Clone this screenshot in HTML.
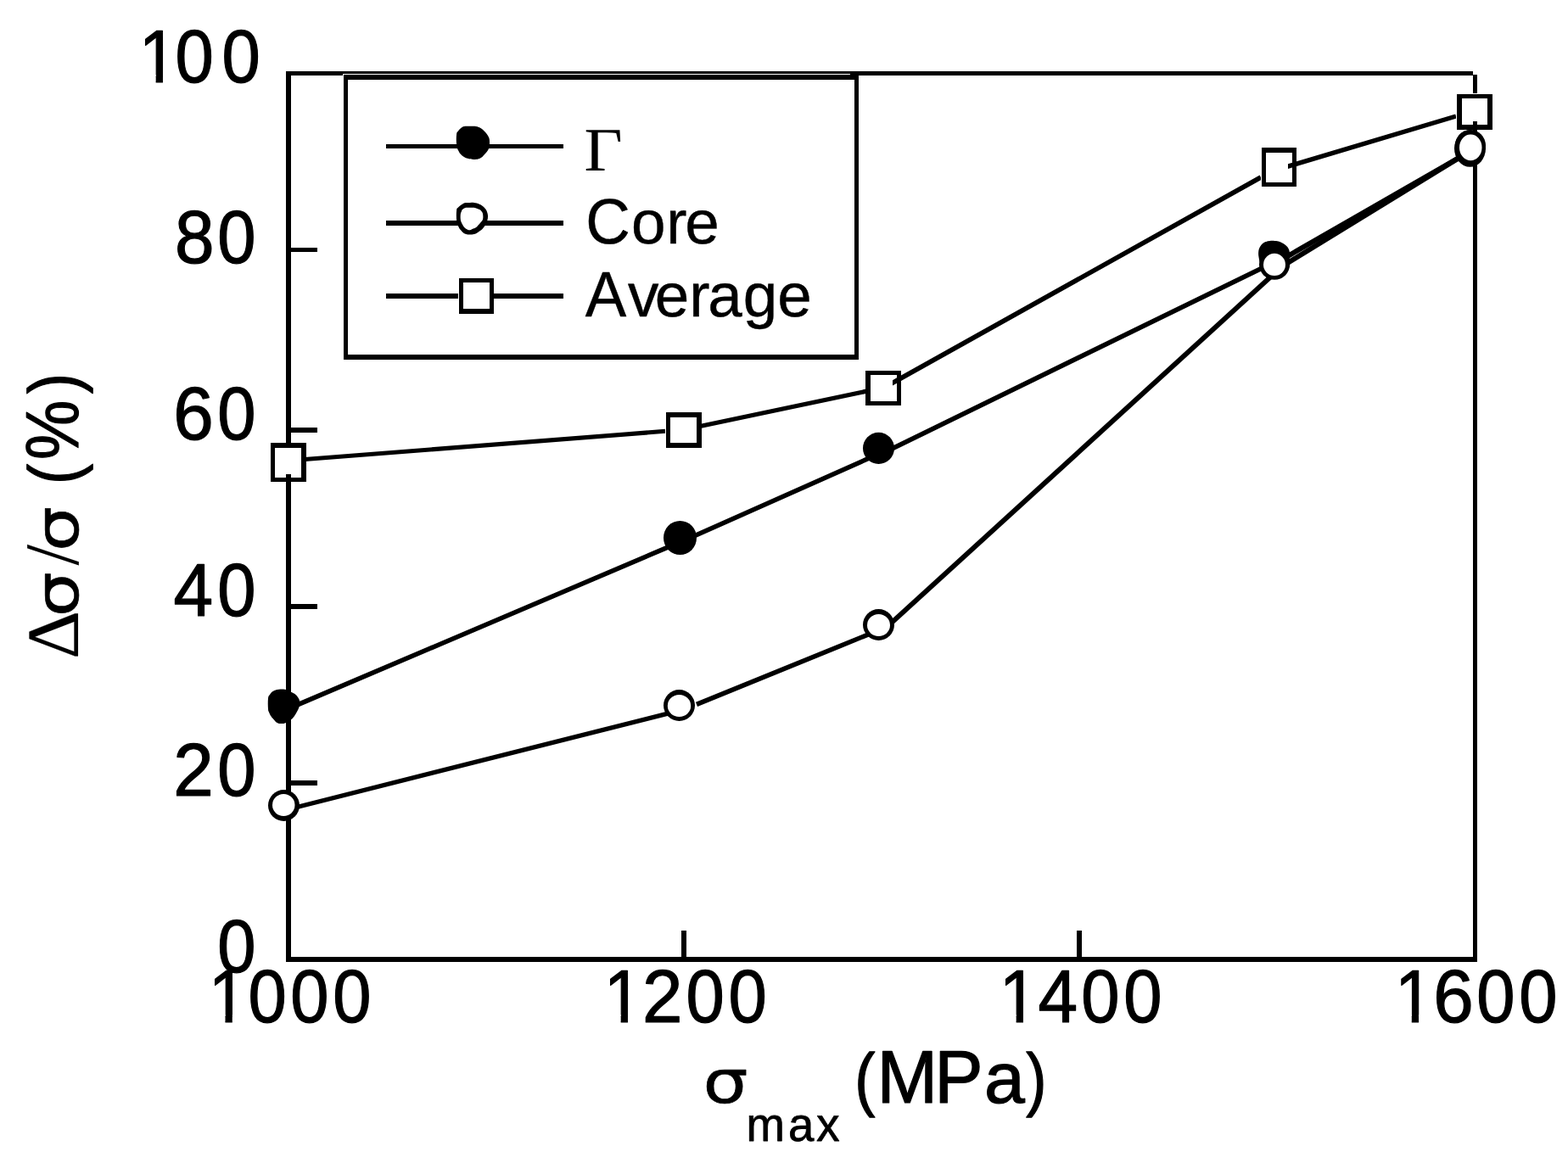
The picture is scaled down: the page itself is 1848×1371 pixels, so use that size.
<!DOCTYPE html>
<html lang="en"><head><meta charset="utf-8"><title>Δσ/σ (%) vs σmax (MPa)</title>
<style>html,body{margin:0;padding:0;background:#fff;overflow:hidden}svg{display:block}text{fill:#000;white-space:pre;font-kerning:none;text-rendering:geometricPrecision}</style>
</head><body>
<svg width="1848" height="1371" viewBox="0 0 1848 1371">
<rect width="1848" height="1371" fill="#fff"/>
<g id="frame">
<rect x="337" y="84" width="6" height="1050" fill="#000"/>
<rect x="337" y="84" width="1399" height="5" fill="#000"/>
<rect x="1736" y="88" width="5" height="1046" fill="#000"/>
<rect x="337" y="1128" width="1404" height="6" fill="#000"/>
<rect x="343" y="292" width="31" height="5" fill="#000"/>
<rect x="343" y="504" width="31" height="6" fill="#000"/>
<rect x="343" y="712" width="31" height="6" fill="#000"/>
<rect x="343" y="920" width="31" height="6" fill="#000"/>
<rect x="803" y="1097" width="6" height="31" fill="#000"/>
<rect x="1269" y="1097" width="6" height="31" fill="#000"/>
</g>
<g id="series-gamma">
<line x1="340" y1="835.4" x2="806" y2="637.1" stroke="#000" stroke-width="5.51"/>
<line x1="806" y1="637.3" x2="1041" y2="532.7" stroke="#000" stroke-width="5.53"/>
<line x1="1041" y1="534" x2="1507.5" y2="306.2" stroke="#000" stroke-width="5.57"/>
<line x1="1507.5" y1="307.8" x2="1725" y2="182.96" stroke="#000" stroke-width="6.1"/>
<path d="M328.3,812.8C331.06,812.4 332.86,812.2 335.8,812.8C338.74,813.4 340.5,814.62 343,815.8C345.5,816.98 346.58,817.32 348.3,818.7C350.02,820.08 350.66,821.24 351.6,822.7C352.54,824.16 352.72,824.54 353,826C353.28,827.46 353.16,828.3 353,830C352.84,831.7 352.88,832.56 352.2,834.5C351.52,836.44 350.78,837.6 349.6,839.7C348.42,841.8 347.62,843.28 346.3,845C344.98,846.72 344.84,846.92 343,848.3C341.16,849.68 339.34,850.96 337.1,851.9C334.86,852.84 333.96,853 331.8,853C329.64,853 328.12,852.84 326.3,851.9C324.48,850.96 324.08,849.82 322.7,848.3C321.32,846.78 320.52,846.02 319.4,844.3C318.28,842.58 317.78,841.4 317.1,839.7C316.42,838 316.22,839.08 316,835.8C315.78,832.52 315.58,826.72 316,823.3C316.42,819.88 316.9,820.4 318.1,818.7C319.3,817 319.96,815.98 322,814.8C324.04,813.62 325.54,813.2 328.3,812.8Z" fill="#000"/>
<ellipse cx="801.5" cy="634" rx="19.5" ry="20" fill="#000"/>
<ellipse cx="1035.5" cy="528.4" rx="18.5" ry="18.6" fill="#000"/>
<path d="M1483.5,303C1482.96,299.8 1483.1,298.2 1483.3,296C1483.5,293.8 1483.96,293.3 1484.5,292C1485.04,290.7 1485.2,290.56 1486,289.5C1486.8,288.44 1487.3,287.6 1488.5,286.7C1489.7,285.8 1490.4,285.54 1492,285C1493.6,284.46 1494.42,284.2 1496.5,284C1498.58,283.8 1500.04,283.82 1502.4,284C1504.76,284.18 1505.94,284.06 1508.3,284.9C1510.66,285.74 1512.24,286.74 1514.2,288.2C1516.16,289.66 1516.98,290.48 1518.1,292.2C1519.22,293.92 1519.42,294.64 1519.8,296.8C1520.18,298.96 1520.36,299.96 1520,303C1519.64,306.04 1519.6,308.8 1518,312C1516.4,315.2 1515.2,317 1512,319C1508.8,321 1506,322 1502,322C1498,322 1495.2,321 1492,319C1488.8,317 1487.7,315.2 1486,312C1484.3,308.8 1484.04,306.2 1483.5,303Z" fill="#000"/>
<ellipse cx="1733" cy="171.5" rx="18" ry="18.5" fill="#000"/>
</g>
<g id="series-core">
<line x1="340" y1="954" x2="800" y2="837.82" stroke="#000" stroke-width="5.32"/>
<line x1="821" y1="830.39" x2="1036" y2="742.83" stroke="#000" stroke-width="5.49"/>
<line x1="1040" y1="743.93" x2="1500" y2="324.05" stroke="#000" stroke-width="5.88"/>
<line x1="1507.5" y1="316.1" x2="1725" y2="182.58" stroke="#000" stroke-width="6.1"/>
<ellipse cx="334.5" cy="949.5" rx="18.5" ry="18.5" fill="#000"/>
<ellipse cx="334.25" cy="949" rx="13.25" ry="13" fill="#fff"/>
<ellipse cx="800.5" cy="831.5" rx="18.5" ry="18.5" fill="#000"/>
<ellipse cx="800.5" cy="832" rx="13.7" ry="13" fill="#fff"/>
<ellipse cx="1035.5" cy="736.5" rx="18.5" ry="18.5" fill="#000"/>
<ellipse cx="1035.5" cy="737" rx="13.5" ry="13" fill="#fff"/>
<ellipse cx="1502.1" cy="311.65" rx="18.1" ry="18.15" fill="#000"/>
<ellipse cx="1502" cy="311.9" rx="13" ry="13.1" fill="#fff"/>
<ellipse cx="1732.5" cy="175" rx="18.5" ry="21.8" fill="#000"/>
<ellipse cx="1733.25" cy="173.95" rx="13.25" ry="15.35" fill="#fff"/>
</g>
<g id="series-average">
<line x1="340" y1="543" x2="784" y2="508.32" stroke="#000" stroke-width="5.1"/>
<line x1="806" y1="506.5" x2="1041" y2="457" stroke="#000" stroke-width="5.27"/>
<line x1="1041" y1="457.5" x2="1486" y2="209.01" stroke="#000" stroke-width="5.63"/>
<line x1="1507.5" y1="199.3" x2="1716" y2="136.98" stroke="#000" stroke-width="5.37"/>
<rect x="319" y="522" width="42" height="46" fill="#000"/>
<rect x="324" y="528" width="31" height="35" fill="#fff"/>
<rect x="784" y="486" width="43" height="42" fill="#fff"/>
<rect x="785" y="486" width="42" height="42" fill="#000"/>
<rect x="790" y="492" width="31" height="30" fill="#fff"/>
<rect x="1020" y="437" width="42" height="41" fill="#000"/>
<rect x="1026" y="442" width="31" height="31" fill="#fff"/>
<rect x="1486" y="174" width="42" height="46" fill="#fff"/>
<rect x="1487" y="174" width="41" height="46" fill="#000"/>
<rect x="1492" y="180" width="31" height="35" fill="#fff"/>
<rect x="1716" y="110" width="43" height="43" fill="#fff"/>
<rect x="1717" y="111" width="42" height="42" fill="#000"/>
<rect x="1723" y="116" width="30" height="31" fill="#fff"/>
<rect x="337" y="559" width="6" height="4" fill="#000"/>
<rect x="1736" y="143" width="5" height="4" fill="#000"/>
<clipPath id="cs3"><rect x="1052" y="442" width="5" height="31"/></clipPath>
<g clip-path="url(#cs3)">
<line x1="1040" y1="458.06" x2="1062" y2="445.77" stroke="#000" stroke-width="5.63"/>
</g>
<clipPath id="cs4"><rect x="1518" y="180" width="5" height="35"/></clipPath>
<g clip-path="url(#cs4)">
<line x1="1506" y1="199.75" x2="1530" y2="192.57" stroke="#000" stroke-width="5.37"/>
</g>
</g>
<g id="legend">
<rect x="404" y="87" width="598" height="338" fill="#fff"/>
<rect x="405" y="88" width="607" height="336" fill="#000"/>
<rect x="410" y="94" width="597" height="324" fill="#fff"/>
<rect x="455" y="170" width="209" height="5" fill="#000"/>
<path d="M547.2,148.9C549.34,148.48 551.28,148.8 554,148.8C556.72,148.8 558.3,148.48 560.8,148.9C563.3,149.32 564.32,149.58 566.5,150.9C568.68,152.22 569.82,153.36 571.7,155.5C573.58,157.64 574.84,159.14 575.9,161.6C576.96,164.06 577,165 577,167.8C577,170.6 577.04,172.8 575.9,175.6C574.76,178.4 573.36,179.56 571.3,181.8C569.24,184.04 568.16,185.58 565.6,186.8C563.04,188.02 561.4,187.9 558.5,187.9C555.6,187.9 553.98,187.8 551.1,186.8C548.22,185.8 546.28,184.74 544.1,182.9C541.92,181.06 541.4,180.1 540.2,177.6C539,175.1 538.52,174.26 538.1,170.4C537.68,166.54 537.68,161.54 538.1,158.3C538.52,155.06 539.16,155.68 540.2,154.2C541.24,152.72 541.9,151.96 543.3,150.9C544.7,149.84 545.06,149.32 547.2,148.9Z" fill="#000"/>
<rect x="455" y="260" width="209" height="6" fill="#000"/>
<path d="M549.2,239C550.82,238.78 552.08,239 554,239C555.92,239 556.58,238.64 558.8,239C561.02,239.36 562.7,239.66 565.1,240.8C567.5,241.94 569.04,242.96 570.8,244.7C572.56,246.44 573.06,247.32 573.9,249.5C574.74,251.68 575.08,253.06 575,255.6C574.92,258.14 574.6,259.56 573.5,262.2C572.4,264.84 571.3,266.62 569.5,268.8C567.7,270.98 566.64,271.66 564.5,273.1C562.36,274.54 561.86,275.42 558.8,276C555.74,276.58 552.3,276.88 549.2,276C546.1,275.12 545.18,273.62 543.3,271.6C541.42,269.58 540.84,268.22 539.8,265.9C538.76,263.58 538.44,263.54 538.1,260C537.76,256.46 537.72,251.3 538.1,248.2C538.48,245.1 538.44,246.12 540,244.5C541.56,242.88 544.06,241.2 545.9,240.1C547.74,239 547.58,239.22 549.2,239Z" fill="#000"/>
<path d="M548.3,244.9C550.1,244.44 551.72,244.8 554,244.8C556.28,244.8 557.48,244.44 559.7,244.9C561.92,245.36 563.48,246.18 565.1,247.1C566.72,248.02 567,248.4 567.8,249.5C568.6,250.6 568.84,250.84 569.1,252.6C569.36,254.36 569.54,256.46 569.1,258.3C568.66,260.14 567.86,260.5 566.9,261.8C565.94,263.1 565.44,263.58 564.3,264.8C563.16,266.02 562.52,266.94 561.2,267.9C559.88,268.86 559.18,268.94 557.7,269.6C556.22,270.26 555.38,271.14 553.8,271.2C552.22,271.26 551.12,270.56 549.8,269.9C548.48,269.24 548.08,268.82 547.2,267.9C546.32,266.98 546.06,266.44 545.4,265.3C544.74,264.16 544.42,263.52 543.9,262.2C543.38,260.88 543.02,260.62 542.8,258.7C542.58,256.78 542.58,254.48 542.8,252.6C543.02,250.72 543.46,250.4 543.9,249.3C544.34,248.2 544.12,247.98 545,247.1C545.88,246.22 546.5,245.36 548.3,244.9Z" fill="#fff"/>
<rect x="455" y="346" width="209" height="6" fill="#000"/>
<rect x="540" y="327" width="42" height="43" fill="#fff"/>
<rect x="541" y="328" width="41" height="42" fill="#000"/>
<rect x="546" y="333" width="31" height="31" fill="#fff"/>
</g>
<g id="labels">
<clipPath id="c100"><path clip-rule="evenodd" d="M-3000,-3000H6000V6000H-3000ZM176.56,-8.62H194.18V3H176.56ZM202.93,-8.62H219.4V3H202.93Z"/></clipPath>
<text transform="translate(0 97) scale(0.946 1.026)" x="173.2 218.31 276.34" y="0" font-family='"Liberation Sans", sans-serif' font-size="86" stroke="#000" stroke-width="1.2" stroke-linejoin="round" clip-path="url(#c100)">100</text>
<text transform="translate(0 310) scale(0.946 1.026)" x="217.72 270.85" y="0" font-family='"Liberation Sans", sans-serif' font-size="86" stroke="#000" stroke-width="1.2" stroke-linejoin="round"><tspan textLength="49.26" lengthAdjust="spacingAndGlyphs">8</tspan>0</text>
<text transform="translate(0 518) scale(0.946 1.026)" x="215.92 270.85" y="0" font-family='"Liberation Sans", sans-serif' font-size="86" stroke="#000" stroke-width="1.2" stroke-linejoin="round"><tspan textLength="50.22" lengthAdjust="spacingAndGlyphs">6</tspan>0</text>
<text transform="translate(0 726) scale(0.946 1.026)" x="216.25 270.85" y="0" font-family='"Liberation Sans", sans-serif' font-size="86" stroke="#000" stroke-width="1.2" stroke-linejoin="round"><tspan textLength="49.26" lengthAdjust="spacingAndGlyphs">4</tspan>0</text>
<text transform="translate(0 938) scale(0.946 1.026)" x="215.97 270.85" y="0" font-family='"Liberation Sans", sans-serif' font-size="86" stroke="#000" stroke-width="1.2" stroke-linejoin="round"><tspan textLength="50.22" lengthAdjust="spacingAndGlyphs">2</tspan>0</text>
<text transform="translate(0 1146) scale(0.946 1.026)" x="270.95" y="0" font-family='"Liberation Sans", sans-serif' font-size="86" stroke="#000" stroke-width="1.2" stroke-linejoin="round">0</text>
<clipPath id="c1000"><path clip-rule="evenodd" d="M-3000,-3000H6000V6000H-3000ZM263.03,-8.62H280.65V3H263.03ZM289.4,-8.62H305.87V3H289.4Z"/></clipPath>
<text transform="translate(0 1205.1) scale(0.946 1.026)" x="259.67 309.11 361.86 414.72" y="0" font-family='"Liberation Sans", sans-serif' font-size="86" stroke="#000" stroke-width="1.2" stroke-linejoin="round" clip-path="url(#c1000)">1000</text>
<clipPath id="c1200"><path clip-rule="evenodd" d="M-3000,-3000H6000V6000H-3000ZM755.85,-8.62H773.46V3H755.85ZM782.21,-8.62H798.68V3H782.21Z"/></clipPath>
<text transform="translate(0 1205.1) scale(0.946 1.026)" x="752.49 800.32 854.57 907.42" y="0" font-family='"Liberation Sans", sans-serif' font-size="86" stroke="#000" stroke-width="1.2" stroke-linejoin="round" clip-path="url(#c1200)">1<tspan textLength="50.22" lengthAdjust="spacingAndGlyphs">2</tspan>00</text>
<clipPath id="c1400"><path clip-rule="evenodd" d="M-3000,-3000H6000V6000H-3000ZM1248.45,-8.62H1266.06V3H1248.45ZM1274.81,-8.62H1291.28V3H1274.81Z"/></clipPath>
<text transform="translate(0 1205.1) scale(0.946 1.026)" x="1245.09 1293.32 1347.06 1399.81" y="0" font-family='"Liberation Sans", sans-serif' font-size="86" stroke="#000" stroke-width="1.2" stroke-linejoin="round" clip-path="url(#c1400)">1<tspan textLength="49.26" lengthAdjust="spacingAndGlyphs">4</tspan>00</text>
<clipPath id="c1600"><path clip-rule="evenodd" d="M-3000,-3000H6000V6000H-3000ZM1741.15,-8.62H1758.77V3H1741.15ZM1767.52,-8.62H1783.98V3H1767.52Z"/></clipPath>
<text transform="translate(0 1205.1) scale(0.946 1.026)" x="1737.79 1785.69 1839.66 1892.52" y="0" font-family='"Liberation Sans", sans-serif' font-size="86" stroke="#000" stroke-width="1.2" stroke-linejoin="round" clip-path="url(#c1600)">1<tspan textLength="50.22" lengthAdjust="spacingAndGlyphs">6</tspan>00</text>
<text transform="translate(0 1300.1) scale(1 1.026)" x="828.48 879.38 928.98 962.19 1005.19 1007.18 1033.45 1101.35 1159.95 1209.17" y="0 43.66 43.66 43.66 0 0 0 0 0 0" font-family='"Liberation Sans", sans-serif' font-size="86" stroke="#000" stroke-width="1.2" stroke-linejoin="round"><tspan stroke-width="0.6" font-family='"DejaVu Sans", sans-serif' font-size="69.2" textLength="53.02" lengthAdjust="spacingAndGlyphs">σ</tspan><tspan stroke-width="0.8" font-size="54.5">max</tspan> <tspan font-size="81" textLength="24.28" lengthAdjust="spacingAndGlyphs">(</tspan>MP<tspan font-size="82.13" textLength="47.83" lengthAdjust="spacingAndGlyphs">a</tspan><tspan font-size="81" textLength="24.28" lengthAdjust="spacingAndGlyphs">)</tspan></text>
<text transform="translate(92.3 0) rotate(-90) scale(1 1.026)" x="-777.04 -727.32 -666.55 -650.02 -607.02 -571.02 -541.92 -464.13" y="0" font-family='"Liberation Sans", sans-serif' font-size="86" stroke="#000" stroke-width="1.2" stroke-linejoin="round"><tspan stroke-width="0.1" font-family='"Liberation Serif", serif' font-size="85" textLength="57.23" lengthAdjust="spacingAndGlyphs">Δ</tspan><tspan stroke-width="0.6" font-family='"DejaVu Sans", sans-serif' font-size="69.2" textLength="53.02" lengthAdjust="spacingAndGlyphs">σ</tspan><tspan stroke-width="0.1" font-family='"Liberation Serif", serif' font-size="88.5">/</tspan><tspan stroke-width="0.6" font-family='"DejaVu Sans", sans-serif' font-size="69.2" textLength="53.02" lengthAdjust="spacingAndGlyphs">σ</tspan> <tspan font-size="81" textLength="24.28" lengthAdjust="spacingAndGlyphs">(</tspan><tspan textLength="70.35" lengthAdjust="spacingAndGlyphs">%</tspan><tspan font-size="81" textLength="24.28" lengthAdjust="spacingAndGlyphs">)</tspan></text>
<text transform="translate(0 201) scale(1 1.026)" x="688.55" y="0" font-family='"Liberation Sans", sans-serif' font-size="72.8"><tspan font-family='"Liberation Serif", serif' font-size="71" textLength="45.15" lengthAdjust="spacingAndGlyphs">Γ</tspan></text>
<text transform="translate(0 287) scale(1 1.04)" x="690.3 744.04 785.37 807.21" y="0" font-family='"Liberation Sans", sans-serif' font-size="72.8" stroke="#000" stroke-width="0.4" stroke-linejoin="round">C<tspan font-size="69.52" textLength="40.49" lengthAdjust="spacingAndGlyphs">o</tspan><tspan font-size="69.52" textLength="24.24" lengthAdjust="spacingAndGlyphs">r</tspan><tspan font-size="69.52" textLength="40.49" lengthAdjust="spacingAndGlyphs">e</tspan></text>
<text transform="translate(0 372.6) scale(1 1.04)" x="689.86 740.05 771.81 812.27 834.31 875.74 916.31" y="0" font-family='"Liberation Sans", sans-serif' font-size="72.8" stroke="#000" stroke-width="0.4" stroke-linejoin="round">A<tspan font-size="69.52" textLength="36.4" lengthAdjust="spacingAndGlyphs">v</tspan><tspan font-size="69.52" textLength="40.49" lengthAdjust="spacingAndGlyphs">e</tspan><tspan font-size="69.52" textLength="24.24" lengthAdjust="spacingAndGlyphs">r</tspan><tspan font-size="69.52" textLength="40.49" lengthAdjust="spacingAndGlyphs">a</tspan><tspan font-size="69.52" textLength="40.49" lengthAdjust="spacingAndGlyphs">g</tspan><tspan font-size="69.52" textLength="40.49" lengthAdjust="spacingAndGlyphs">e</tspan></text>
</g>
</svg>
</body></html>
